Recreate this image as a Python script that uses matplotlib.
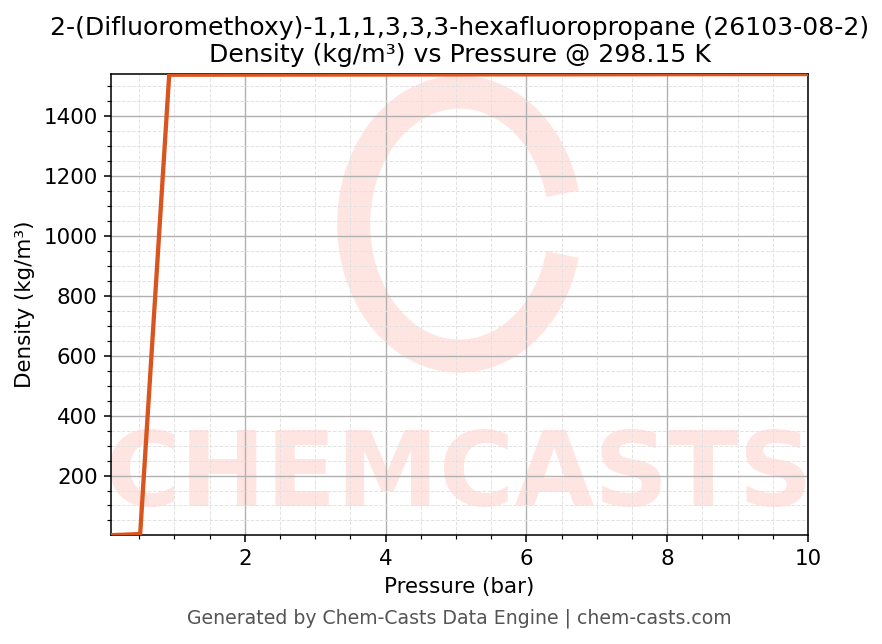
import matplotlib
matplotlib.use("Agg")
import matplotlib.pyplot as plt
from matplotlib.ticker import AutoMinorLocator
from matplotlib.patches import Arc

# --- datos ---
presion = [0.1, 0.5125, 0.925, 1.3375, 1.75, 2.1625, 2.575, 2.9875, 3.4, 3.8125,
           4.225, 4.6375, 5.05, 5.4625, 5.875, 6.2875, 6.7, 7.1125, 7.525, 7.9375,
           8.35, 8.7625, 9.175, 9.5875, 10.0]
densidad = [0.9, 4.6, 1538.0, 1538.1, 1538.2, 1538.3, 1538.4, 1538.5, 1538.6, 1538.7,
            1538.8, 1538.9, 1539.0, 1539.1, 1539.2, 1539.3, 1539.4, 1539.5, 1539.6, 1539.7,
            1539.8, 1539.9, 1540.0, 1540.1, 1540.2]

titulo = "2-(Difluoromethoxy)-1,1,1,3,3,3-hexafluoropropane (26103-08-2)\nDensity (kg/m³) vs Pressure @ 298.15 K"
pie = "Generated by Chem-Casts Data Engine | chem-casts.com"

fig = plt.figure(figsize=(6.3, 4.6), dpi=140)
ax = fig.add_axes([0.126, 0.169, 0.790, 0.716])

# --- marca de agua ---
wm = "#ffe5e2"
ax.text(0.5, 0.125, "CHEMCASTS", transform=ax.transAxes, ha="center", va="center",
        fontsize=53, fontweight="bold", color=wm, zorder=0, clip_on=True)
arco = Arc((0.521, 0.652), 0.24, 0.41, angle=0, theta1=22, theta2=338,
           color=wm, lw=17, zorder=0)
ax.add_patch(arco)
arco.set_transform(fig.transFigure)

ax.plot(presion, densidad, color="#d9541e", lw=2.2, zorder=3)

ax.set_xlim(min(presion), max(presion))
ax.set_ylim(min(densidad), max(densidad))
ax.xaxis.set_minor_locator(AutoMinorLocator(4))
ax.yaxis.set_minor_locator(AutoMinorLocator(4))
ax.grid(which="major", color="#b0b0b0", lw=0.7, zorder=1)
ax.grid(which="minor", color="#e2e2e2", lw=0.5, ls="--", zorder=1)
ax.set_axisbelow(True)

ax.set_xlabel("Pressure (bar)", fontsize=11)
ax.set_ylabel("Density (kg/m³)", fontsize=11)
ax.set_title(titulo, fontsize=12.9)
ax.tick_params(labelsize=11)

fig.text(0.521, 0.04, pie, ha="center", va="center", fontsize=9.7, color="#555555")

fig.savefig("out.png", dpi=140)
